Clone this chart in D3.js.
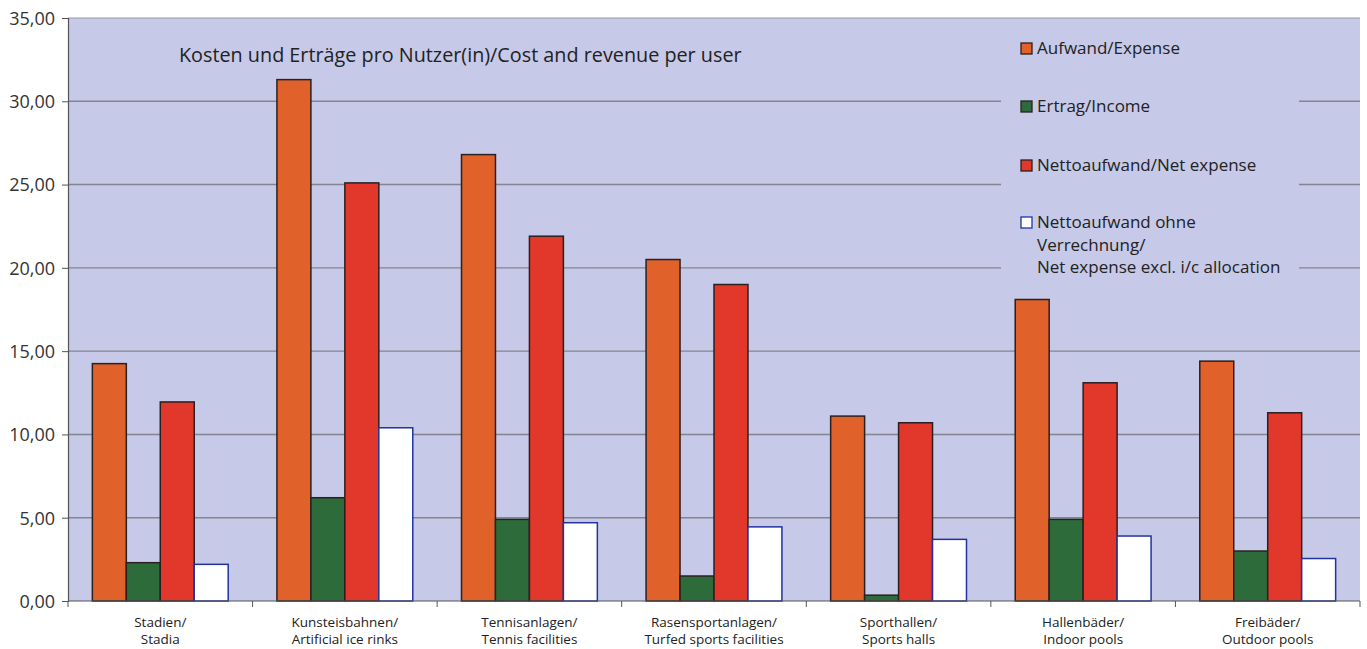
<!DOCTYPE html>
<html><head><meta charset="utf-8">
<script src="https://cdn.jsdelivr.net/npm/d3@7"></script>
<style>body{margin:0;background:#fff;} svg{display:block;}</style>
</head><body>
<svg id="c" width="1367" height="649"></svg>
<script>
const categories = [
  ["Stadien/","Stadia"],
  ["Kunsteisbahnen/","Artificial ice rinks"],
  ["Tennisanlagen/","Tennis facilities"],
  ["Rasensportanlagen/","Turfed sports facilities"],
  ["Sporthallen/","Sports halls"],
  ["Hallenbäder/","Indoor pools"],
  ["Freibäder/","Outdoor pools"]
];
const seriesNames = ["Aufwand/Expense","Ertrag/Income","Nettoaufwand/Net expense","Nettoaufwand ohne\nVerrechnung/\nNet expense excl. i/c allocation"];
const expense    = [14.25, 31.3, 26.8, 20.5, 11.1, 18.1, 14.4];
const income     = [2.3, 6.2, 4.9, 1.5, 0.35, 4.9, 3.0];
const netExpense = [11.95, 25.1, 21.9, 19.0, 10.7, 13.1, 11.3];
const netExcl    = [2.2, 10.4, 4.7, 4.45, 3.7, 3.9, 2.55];
const yTicks = [0,5,10,15,20,25,30,35];
const title = "Kosten und Erträge pro Nutzer(in)/Cost and revenue per user";

const fills = ["#e0622a","#2d6b3a","#e2372b","#ffffff"];
const strokes = ["#2a2020","#2a2020","#2a2020","#2233a0"];
const values = [expense, income, netExpense, netExcl];

const svg = d3.select("#c");
const L=68, R=1360, T=18, B=601;
const font = "'Open Sans', 'Noto Sans', sans-serif";

const x0 = d3.scaleBand().domain(categories.map((d,i)=>i)).range([L,R]).padding(0);
const pad = x0.bandwidth()*0.132;
const x1 = d3.scaleBand().domain(d3.range(4)).range([pad, x0.bandwidth()-pad]).padding(0);
const y = d3.scaleLinear().domain([0,35]).range([B,T]);

// plot background
svg.append("rect").attr("x",L).attr("y",T).attr("width",R-L).attr("height",B-T).attr("fill","#c6c9e7");

// gridlines
svg.append("g").selectAll("line").data(yTicks.filter(d=>d>0 && d<35)).join("line")
  .attr("x1",L).attr("x2",R).attr("y1",d=>y(d)).attr("y2",d=>y(d))
  .attr("stroke","#85858f").attr("stroke-width",1.4);
svg.append("line").attr("x1",L).attr("x2",R).attr("y1",y(35)).attr("y2",y(35))
  .attr("stroke","#9a9aa6").attr("stroke-width",1.2);

// legend box background (interrupts gridlines)
svg.append("rect").attr("x",1001).attr("y",28).attr("width",298).attr("height",258).attr("fill","#c6c9e7");

// bars
const g = svg.append("g");
categories.forEach((c,i)=>{
  values.forEach((vals,s)=>{
    g.append("rect")
      .attr("x",x0(i)+x1(s)).attr("width",x1.bandwidth())
      .attr("y",y(vals[i])).attr("height",y(0)-y(vals[i]))
      .attr("fill",fills[s]).attr("stroke",strokes[s]).attr("stroke-width",1.5);
  });
});

// y axis
const yAxis = svg.append("g").attr("transform",`translate(${L},0)`)
  .call(d3.axisLeft(y).tickValues(yTicks).tickSize(6).tickPadding(7).tickFormat(d=>d3.format(".2f")(d).replace(".",",")));
yAxis.select(".domain").attr("stroke","#555").attr("stroke-width",1.2);
yAxis.selectAll(".tick line").attr("stroke","#555");
yAxis.selectAll("text").attr("font-family",font).attr("font-size",18).attr("fill","#333").attr("dy","0.35em");

// x axis
const xAxis = svg.append("g").attr("transform",`translate(0,${B})`);
xAxis.append("line").attr("x1",L).attr("x2",R).attr("stroke","#555").attr("stroke-width",1.2);
xAxis.selectAll("line.t").data(d3.range(categories.length+1)).join("line").attr("class","t")
  .attr("x1",d=>L+d*x0.bandwidth()).attr("x2",d=>L+d*x0.bandwidth()).attr("y1",0).attr("y2",6)
  .attr("stroke","#555");
categories.forEach((c,i)=>{
  const t = xAxis.append("text").attr("x",x0(i)+x0.bandwidth()/2).attr("y",26)
    .attr("text-anchor","middle").attr("font-family",font).attr("font-size",13.5).attr("fill","#222");
  t.append("tspan").attr("x",x0(i)+x0.bandwidth()/2).text(c[0]);
  t.append("tspan").attr("x",x0(i)+x0.bandwidth()/2).attr("dy",17).text(c[1]);
});

// title
svg.append("text").attr("x",179).attr("y",62).attr("font-family",font).attr("font-size",19.8)
  .attr("fill","#222").text(title);

// legend
const legY = [48, 106, 165, 222];
seriesNames.forEach((n,s)=>{
  svg.append("rect").attr("x",1021).attr("y",legY[s]-5).attr("width",11).attr("height",11)
    .attr("fill",fills[s]).attr("stroke",strokes[s]).attr("stroke-width",1.3);
  const t = svg.append("text").attr("x",1037).attr("y",legY[s]+6).attr("font-family",font)
    .attr("font-size",17).attr("fill","#222");
  n.split("\n").forEach((line,k)=>{
    t.append("tspan").attr("x",1037).attr("dy",k?22.5:0).text(line);
  });
});
</script>
</body></html>
